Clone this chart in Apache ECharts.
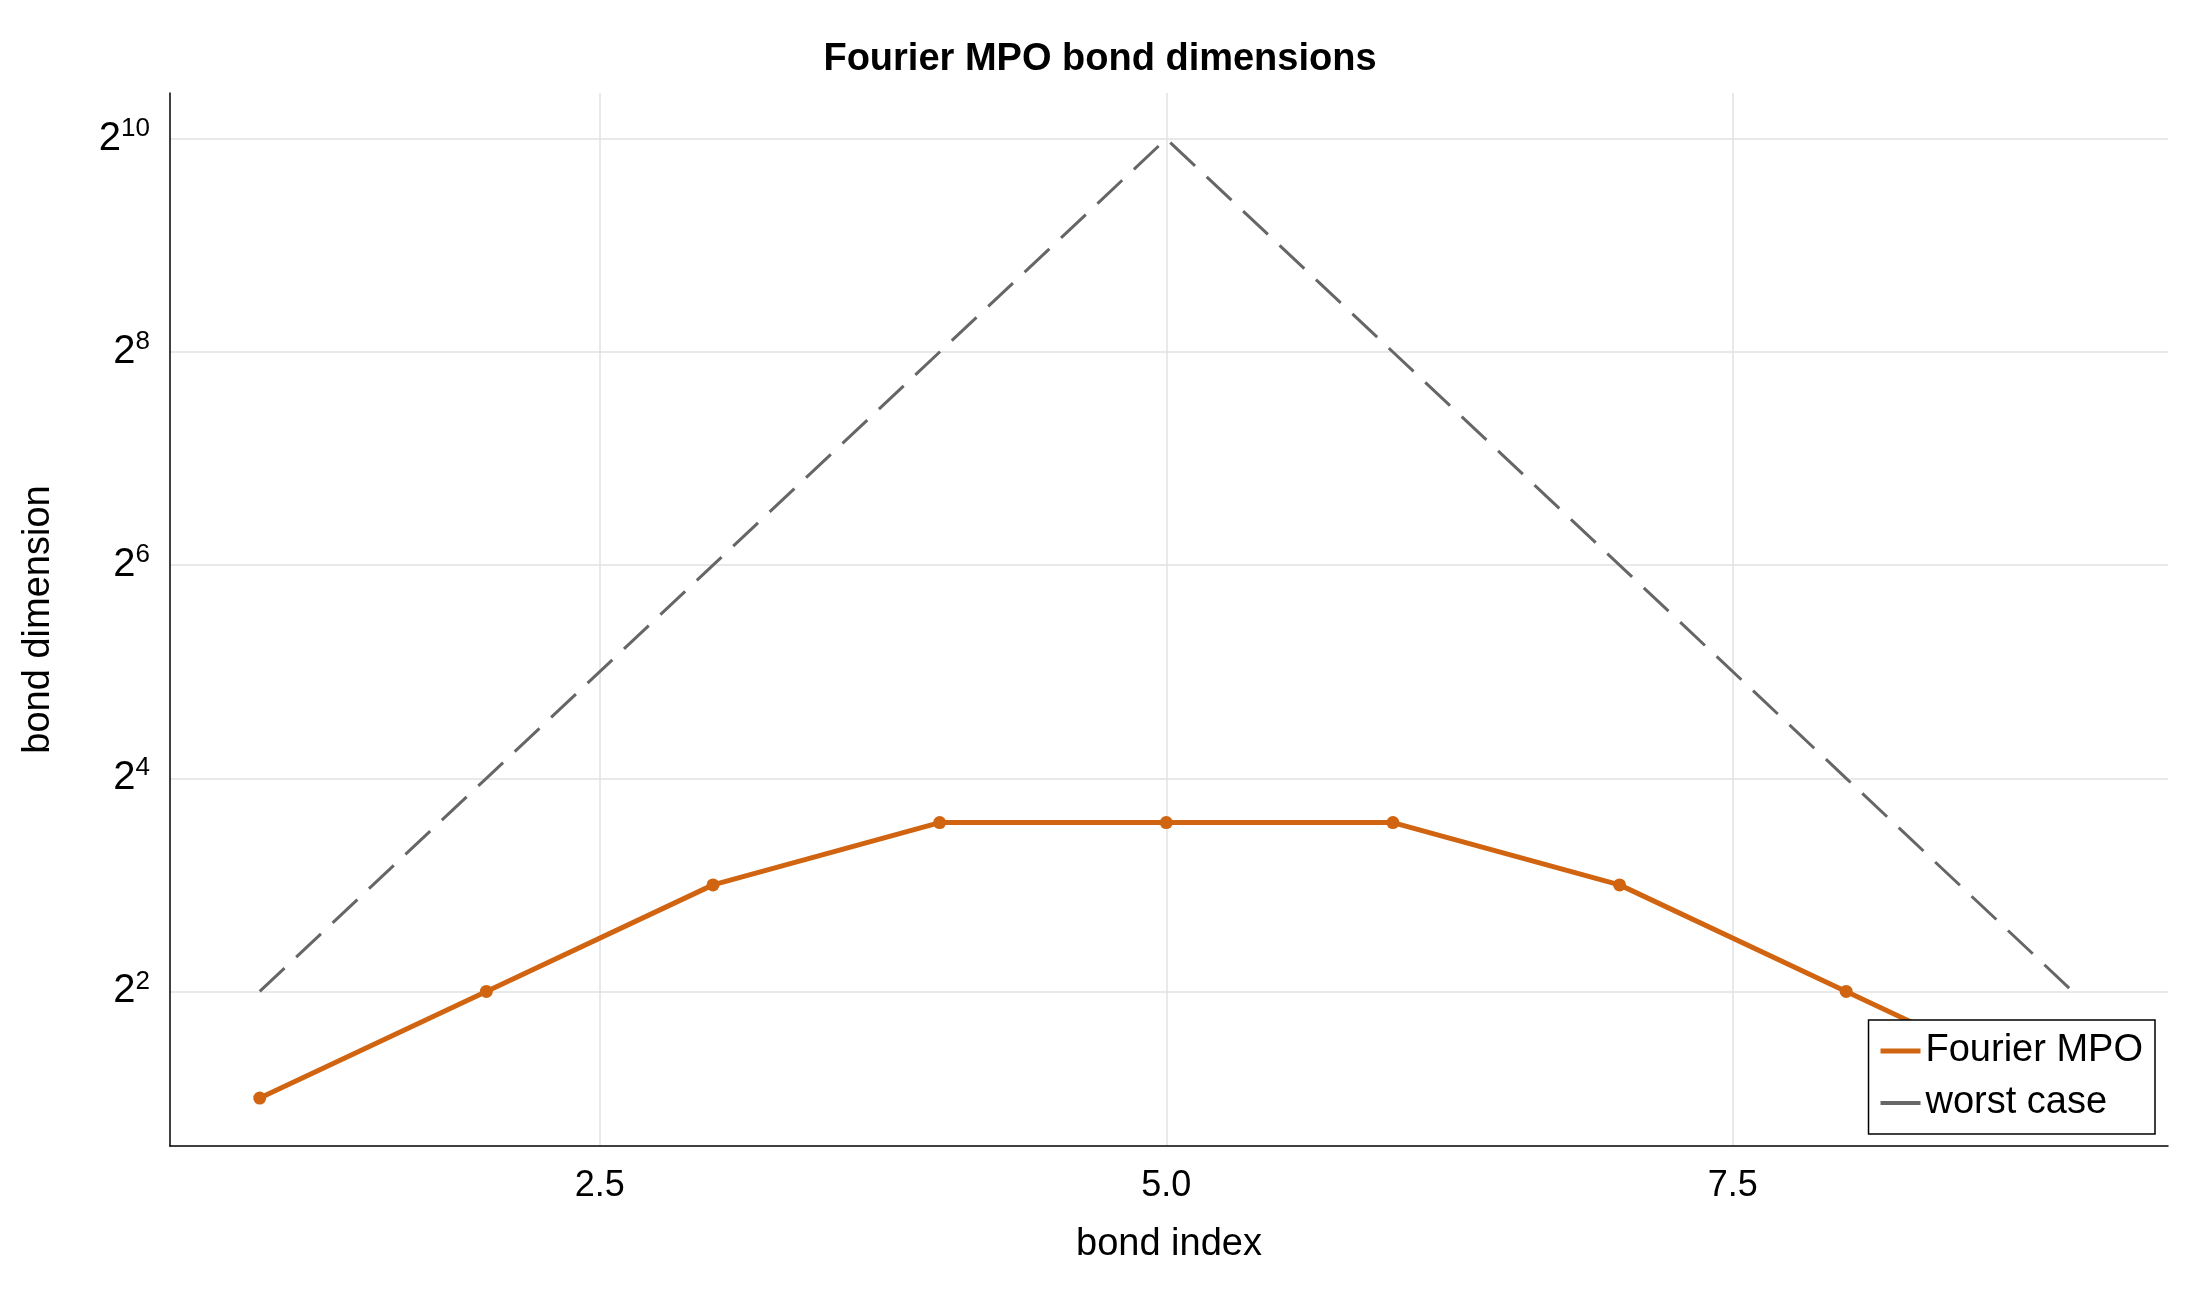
<!DOCTYPE html>
<html>
<head>
<meta charset="UTF-8">
<script src="https://cdn.jsdelivr.net/npm/echarts@6/dist/echarts.min.js"></script>
<style>
  html, body { margin: 0; padding: 0; background: #fff; }
  #chart { width: 2200px; height: 1300px; }
</style>
</head>
<body>
<div id="chart"></div>
<script>
var bondIndex = [1, 2, 3, 4, 5, 6, 7, 8, 9];
var fourierMPO = [2, 4, 8, 12, 12, 12, 8, 4, 2];
var worstCase = [4, 16, 64, 256, 1024, 256, 64, 16, 4];
var xTicks = [2.5, 5, 7.5];
var yTickExponents = [2, 4, 6, 8, 10];

var chart = echarts.init(document.getElementById('chart'));
var font = 'Liberation Sans, Arial, sans-serif';

// y plotted on a log2 scale
function pairs(ys) {
  return bondIndex.map(function (x, i) { return [x, Math.log2(ys[i])]; });
}

chart.setOption({
  textStyle: { fontFamily: font },
  title: {
    text: 'Fourier MPO bond dimensions',
    left: 'center',
    top: 36,
    textStyle: { fontSize: 38, fontWeight: 'bold', color: '#000', fontFamily: font }
  },
  grid: { left: 170, right: 32, top: 93, bottom: 154 },
  legend: {
    orient: 'vertical',
    right: 45,
    bottom: 166,
    padding: [12, 12, 12, 12],
    itemGap: 14,
    backgroundColor: '#fff',
    borderColor: '#000',
    borderWidth: 1.5,
    borderRadius: 0,
    itemWidth: 40,
    itemHeight: 5,
    textStyle: { fontSize: 38, color: '#000', fontFamily: font },
    data: [
      { name: 'Fourier MPO', icon: 'path://M0,0 L40,0 L40,5 L0,5 Z' },
      { name: 'worst case', icon: 'path://M0,0 L40,0 L40,4 L0,4 Z' }
    ]
  },
  xAxis: {
    type: 'value',
    min: 0.604,
    max: 9.42,
    name: 'bond index',
    nameLocation: 'middle',
    nameGap: 80,
    nameTextStyle: { fontSize: 38, color: '#000' },
    axisLine: { show: true, onZero: false, lineStyle: { color: '#000', width: 1.5 } },
    axisTick: { show: true, customValues: xTicks, length: 0 },
    axisLabel: { customValues: xTicks, fontSize: 36, color: '#000', margin: 22,
      formatter: function (v) { return v.toFixed(1); } },
    splitLine: { show: true, customValues: xTicks, lineStyle: { color: '#e2e2e2', width: 1.5 } }
  },
  yAxis: {
    type: 'value',
    min: 0.55,
    max: 10.43,
    name: 'bond dimension',
    nameLocation: 'middle',
    nameGap: 112,
    nameTextStyle: { fontSize: 38, color: '#000' },
    axisLine: { show: true, lineStyle: { color: '#000', width: 1.5 } },
    axisTick: { show: false, customValues: yTickExponents },
    axisLabel: {
      customValues: yTickExponents,
      color: '#000', margin: 20,
      formatter: function (v) {
        return '{b|2}{s|' + Math.round(v) + '}';
      },
      rich: {
        b: { fontSize: 40, color: '#000', fontFamily: font },
        s: { fontSize: 26, color: '#000', fontFamily: font, verticalAlign: 'top', padding: [0, 0, 20, 0] }
      }
    },
    splitLine: { show: true, customValues: yTickExponents, lineStyle: { color: '#e2e2e2', width: 1.5 } }
  },
  series: [
    {
      name: 'worst case',
      type: 'line',
      data: pairs(worstCase),
      symbol: 'none',
      color: '#666666',
      lineStyle: { color: '#666666', width: 3, type: [34, 16] },
      z: 2
    },
    {
      name: 'Fourier MPO',
      type: 'line',
      data: pairs(fourierMPO),
      symbol: 'circle',
      symbolSize: 13,
      color: '#D06410',
      itemStyle: { color: '#D06410' },
      lineStyle: { color: '#D06410', width: 5 },
      z: 3
    }
  ]
});
</script>
</body>
</html>
